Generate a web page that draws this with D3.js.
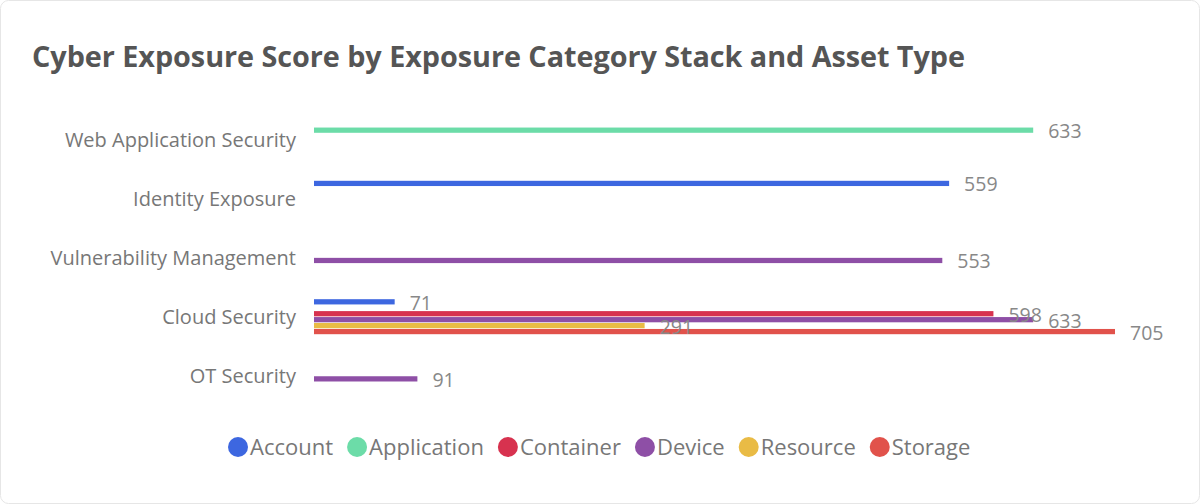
<!DOCTYPE html>
<html>
<head>
<meta charset="utf-8">
<script src="https://cdn.jsdelivr.net/npm/d3@7"></script>
<style>
  body { margin: 0; background: #fff; }
  svg { font-family: "Open Sans", "Noto Sans", sans-serif; }
</style>
</head>
<body>
<svg id="chart" width="1200" height="504"></svg>
<script>
var categories = ['Web Application Security', 'Identity Exposure', 'Vulnerability Management', 'Cloud Security', 'OT Security'];
var assetTypes = ['Account', 'Application', 'Container', 'Device', 'Resource', 'Storage'];
var colors = ['#3d67e0', '#6cdca8', '#d7324f', '#8e4fa6', '#e9bb45', '#e1524b'];

// one row per category, null = no bar
var account     = [null, 559, null, 71, null];
var application = [633, null, null, null, null];
var container   = [null, null, null, 598, null];
var device      = [null, null, 553, 633, 91];
var resource    = [null, null, null, 291, null];
var storage     = [null, null, null, 705, null];
var series = [account, application, container, device, resource, storage];

var svg = d3.select('#chart');

svg.append('rect')
    .attr('x', 0.5).attr('y', 0.5).attr('width', 1199).attr('height', 503)
    .attr('rx', 8).attr('fill', '#fff').attr('stroke', '#e6e6e6');

svg.append('text')
    .attr('x', 32).attr('y', 67)
    .attr('font-size', 28.8).attr('font-weight', 'bold').attr('fill', '#555')
    .attr('textLength', 933)
    .text('Cyber Exposure Score by Exposure Category Stack and Asset Type');

var x = d3.scaleLinear().domain([0, 705]).range([314, 1115]);
var y = d3.scaleBand().domain(categories).range([109, 405]);
var slot = d3.scaleBand().domain(assetTypes).range([-17, 18]).paddingInner(0.12);

categories.forEach(function(c) {
    svg.append('text')
        .attr('x', 296).attr('y', y(c) + y.bandwidth() / 2 + 8)
        .attr('text-anchor', 'end').attr('font-size', 20).attr('fill', '#777')
        .text(c);
});

var bars = [];
series.forEach(function(vals, si) {
    vals.forEach(function(v, ci) {
        if(v !== null) bars.push({cat: categories[ci], type: assetTypes[si], color: colors[si], value: v});
    });
});

function barY(d) {
    return y(d.cat) + y.bandwidth() / 2 + slot(d.type);
}

svg.selectAll('rect.bar').data(bars).enter().append('rect')
    .attr('class', 'bar')
    .attr('x', x(0))
    .attr('y', barY)
    .attr('width', function(d) { return x(d.value) - x(0); })
    .attr('height', slot.bandwidth())
    .attr('fill', function(d) { return d.color; });

svg.selectAll('text.val').data(bars).enter().append('text')
    .attr('class', 'val')
    .attr('x', function(d) { return x(d.value) + 15; })
    .attr('y', function(d) { return barY(d) + slot.bandwidth() / 2 + 8; })
    .attr('font-size', 19.5).attr('fill', '#888')
    .text(function(d) { return d.value; });

// legend
var legend = svg.append('g');
var lx = 238;
assetTypes.forEach(function(t, i) {
    legend.append('circle').attr('cx', lx).attr('cy', 447).attr('r', 10).attr('fill', colors[i]);
    var txt = legend.append('text')
        .attr('x', lx + 12).attr('y', 455)
        .attr('font-size', 22).attr('fill', '#777')
        .text(t);
    lx += txt.node().getComputedTextLength() + 36;
});
</script>
</body>
</html>
